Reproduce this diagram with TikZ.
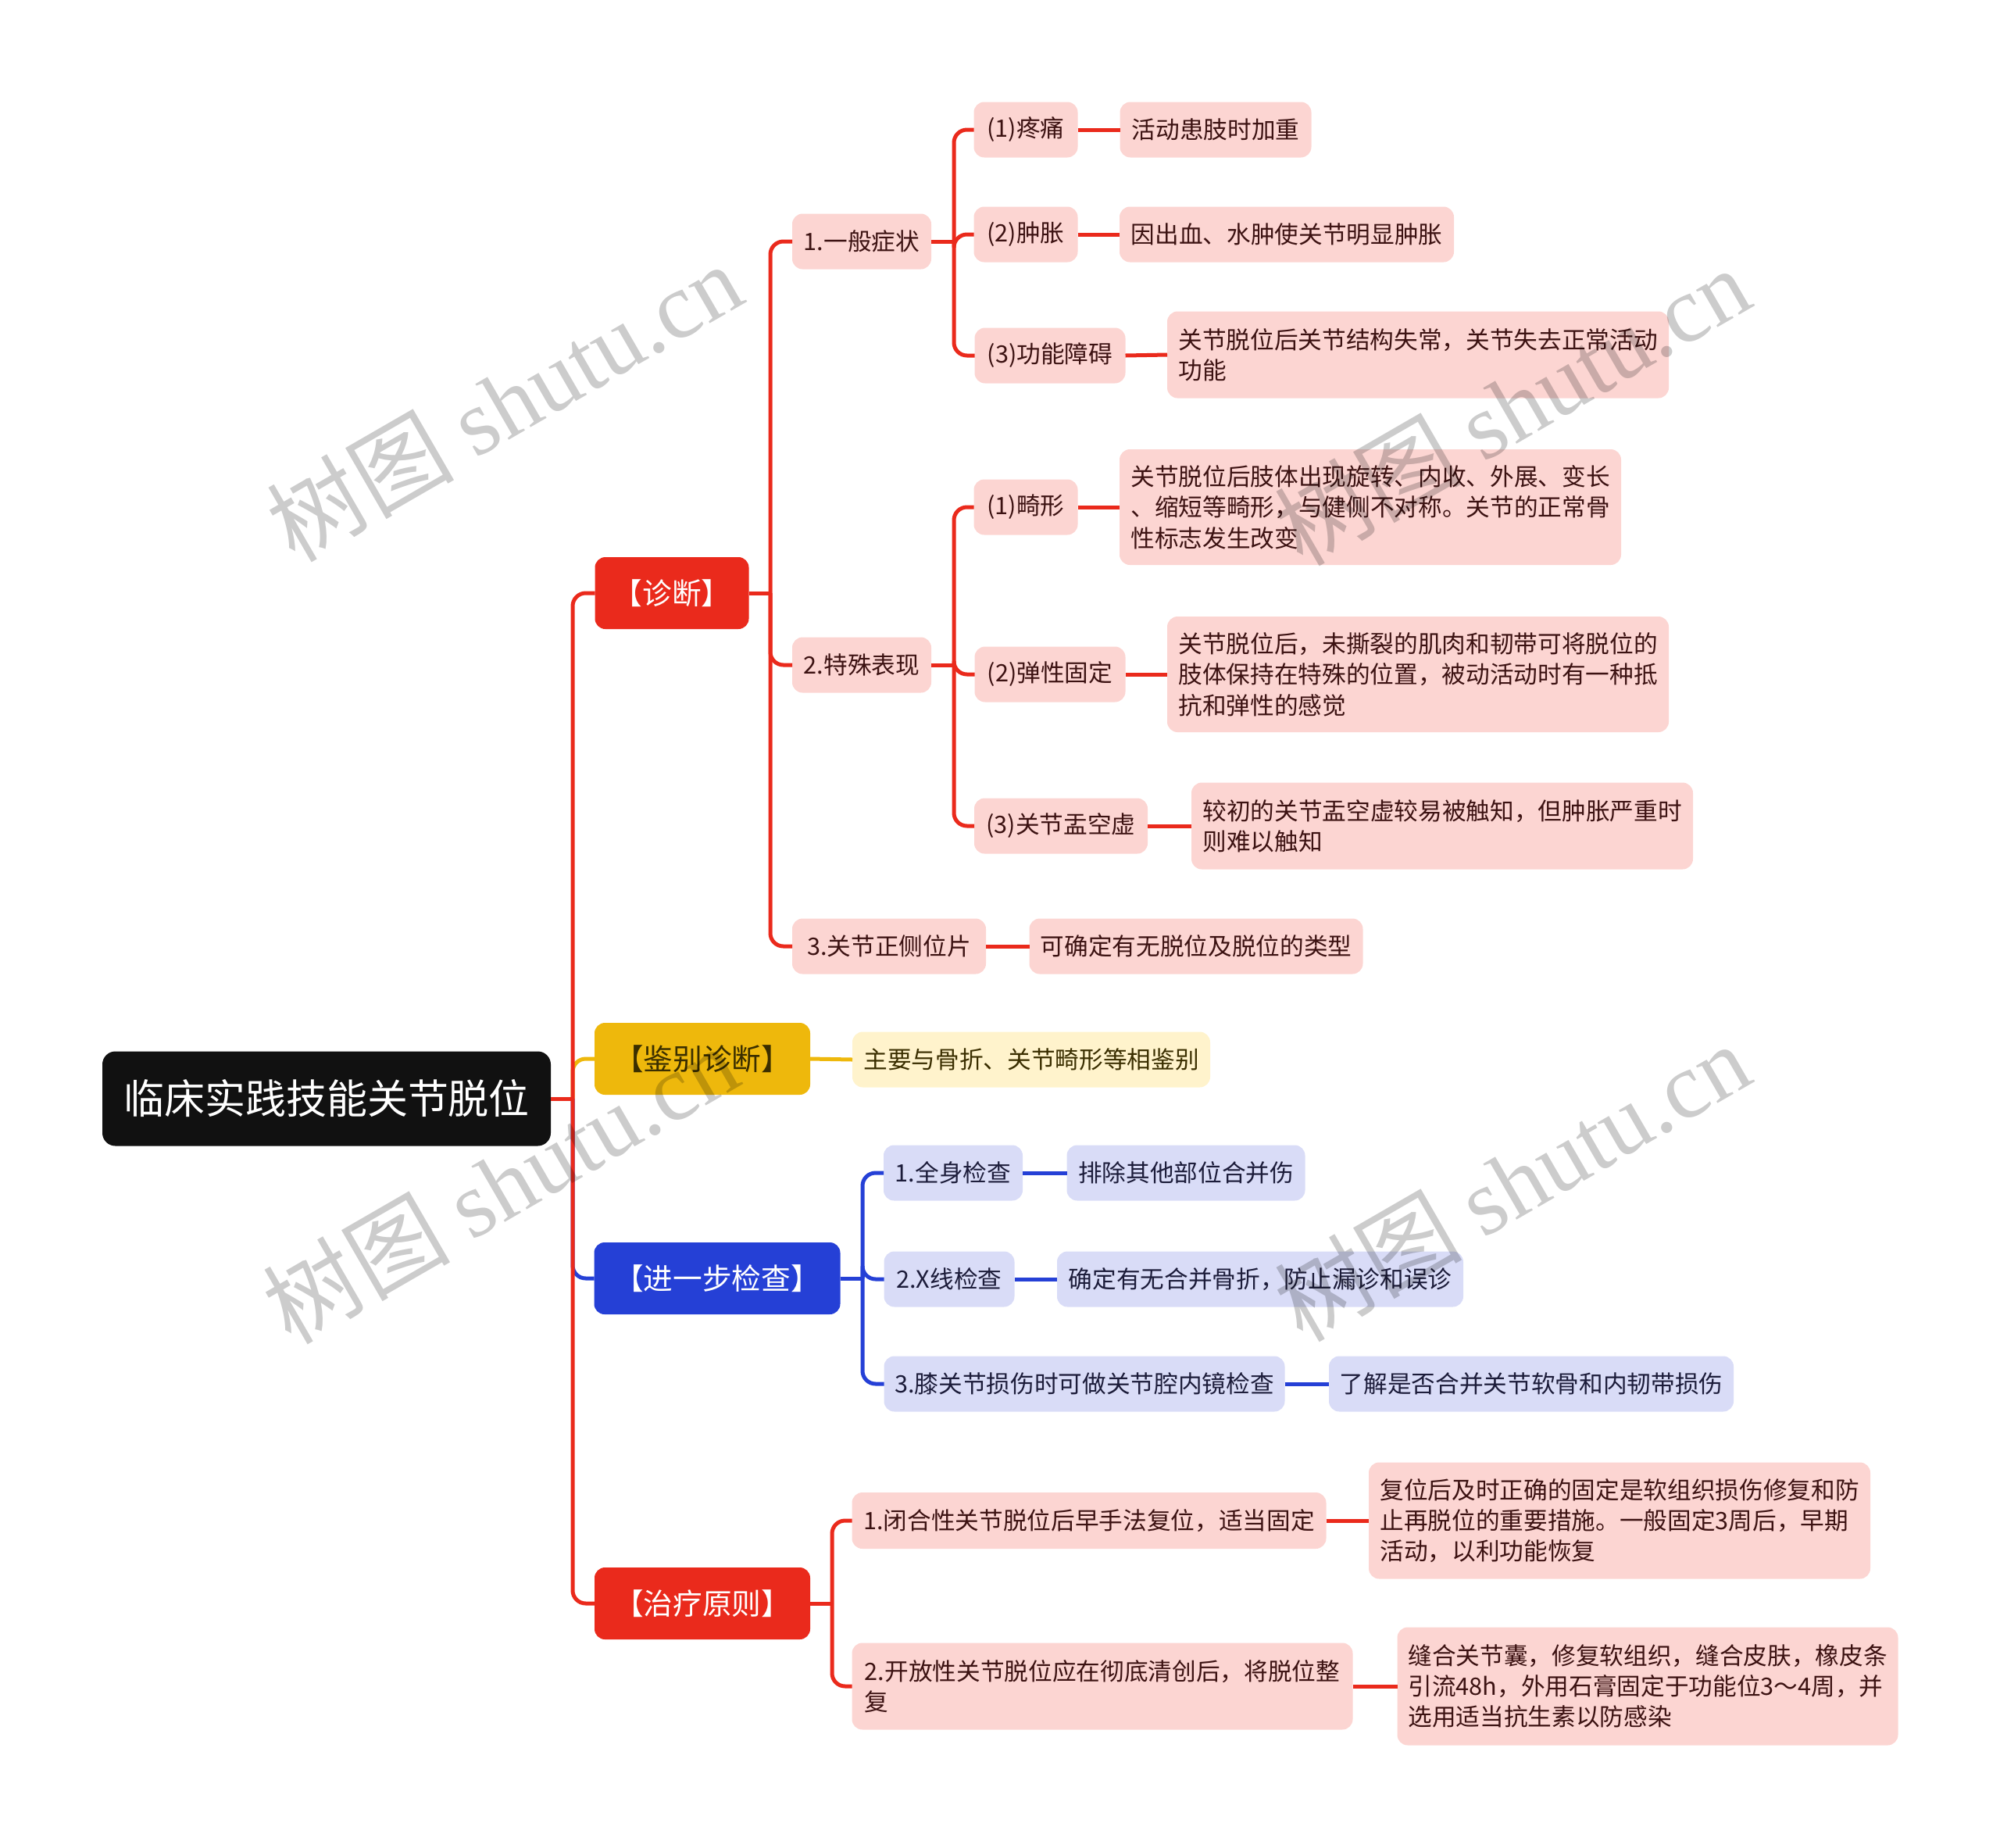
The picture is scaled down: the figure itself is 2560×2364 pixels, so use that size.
\documentclass[tikz,border=0pt]{standalone}
\usepackage{fontspec}
\setmainfont{Noto Sans CJK SC}
\newfontfamily\wmlat{Liberation Serif}
\newfontfamily\wmcjk{Noto Sans CJK SC}
\definecolor{rootc}{HTML}{111111}
\definecolor{redc}{HTML}{EA2A1C}
\definecolor{yelc}{HTML}{EEB80C}
\definecolor{bluc}{HTML}{2540D6}
\definecolor{pinkc}{HTML}{FCD5D2}
\definecolor{lavc}{HTML}{D9DCF7}
\definecolor{ltyc}{HTML}{FFF3CC}
\definecolor{pinkt}{HTML}{3C1212}
\definecolor{lavt}{HTML}{1C1C3A}
\definecolor{ltyt}{HTML}{3A2E00}
\tikzset{
  wh/.style 2 args={minimum width=#1*0.3pt, minimum height=#2*0.3pt},
  base/.style={inner sep=0pt, outer sep=0pt, align=left},
  rootbox/.style={base, fill=rootc, text=white, rounded corners=5pt, font=\fontsize{15.6}{18}\selectfont},
  lone/.style={base, rounded corners=4pt, font=\fontsize{11.3}{14}\selectfont},
  redbox/.style={lone, fill=redc, text=white},
  yelbox/.style={lone, fill=yelc, text=ltyt},
  blubox/.style={lone, fill=bluc, text=white},
  leaf/.style={base, rounded corners=4pt, font=\fontsize{9.2}{11.8}\selectfont},
  pk/.style={leaf, fill=pinkc, text=pinkt},
  lv/.style={leaf, fill=lavc, text=lavt},
  ly/.style={leaf, fill=ltyc, text=ltyt},
  conn/.style={line width=1.5pt, rounded corners=5pt},
  rl/.style={conn, draw=redc},
  yl/.style={conn, draw=yelc},
  bl/.style={conn, draw=bluc},
  wm/.style={rotate=30, text=black, text opacity=0.2, inner sep=0pt}
}
\begin{document}
\begin{tikzpicture}[x=0.3pt, y=-0.3pt]
\useasboundingbox (0,0) rectangle (2560,2364);
% root and level 1
\node[rootbox, wh={574}{121}] (root) at (418,1406) {临床实践技能关节脱位};
\node[redbox, wh={197}{92}] (zd) at (860,759) {【诊断】};
\node[yelbox, wh={276}{92}] (jb) at (899,1355) {【鉴别诊断】};
\node[blubox, wh={315}{92}] (jc) at (918,1636) {【进一步检查】};
\node[redbox, wh={276}{92}] (zl) at (899,2052) {【治疗原则】};
% diagnosis
\node[pk, wh={178}{71}] (a1) at (1103,309) {1.一般症状};
\node[pk, wh={178}{71}] (a2) at (1103,851) {2.特殊表现};
\node[pk, wh={248}{71}] (a3) at (1138,1211) {3.关节正侧位片};
\node[pk, wh={133}{71}] (b1) at (1313,166) {(1)疼痛};
\node[pk, wh={245}{71}] (b1t) at (1556,166) {活动患肢时加重};
\node[pk, wh={133}{71}] (b2) at (1313,300) {(2)肿胀};
\node[pk, wh={428}{71}] (b2t) at (1647,300) {因出血、水肿使关节明显肿胀};
\node[pk, wh={193}{71}] (b3) at (1344,455) {(3)功能障碍};
\node[pk, wh={642}{111}] (b3t) at (1815,454) {关节脱位后关节结构失常，关节失去正常活动\\功能};
\node[pk, wh={133}{71}] (c1) at (1313,649) {(1)畸形};
\node[pk, wh={642}{148}] (c1t) at (1754,649) {关节脱位后肢体出现旋转、内收、外展、变长\\、缩短等畸形，与健侧不对称。关节的正常骨\\性标志发生改变};
\node[pk, wh={193}{71}] (c2) at (1344,863) {(2)弹性固定};
\node[pk, wh={642}{148}] (c2t) at (1815,863) {关节脱位后，未撕裂的肌肉和韧带可将脱位的\\肢体保持在特殊的位置，被动活动时有一种抵\\抗和弹性的感觉};
\node[pk, wh={222}{71}] (c3) at (1358,1057) {(3)关节盂空虚};
\node[pk, wh={642}{111}] (c3t) at (1846,1057) {较初的关节盂空虚较易被触知，但肿胀严重时\\则难以触知};
\node[pk, wh={427}{71}] (a3t) at (1531,1211) {可确定有无脱位及脱位的类型};
% differential
\node[ly, wh={458}{71}] (jbt) at (1320,1356) {主要与骨折、关节畸形等相鉴别};
% further exam
\node[lv, wh={178}{71}] (d1) at (1220,1501) {1.全身检查};
\node[lv, wh={305}{71}] (d1t) at (1518,1501) {排除其他部位合并伤};
\node[lv, wh={167}{71}] (d2) at (1215,1637) {2.X线检查};
\node[lv, wh={520}{71}] (d2t) at (1613,1637) {确定有无合并骨折，防止漏诊和误诊};
\node[lv, wh={513}{71}] (d3) at (1388,1771) {3.膝关节损伤时可做关节腔内镜检查};
\node[lv, wh={518}{71}] (d3t) at (1960,1771) {了解是否合并关节软骨和内韧带损伤};
% treatment
\node[pk, wh={607}{72}] (e1) at (1394,1946) {1.闭合性关节脱位后早手法复位，适当固定};
\node[pk, wh={642}{149}] (e1t) at (2073,1946) {复位后及时正确的固定是软组织损伤修复和防\\止再脱位的重要措施。一般固定3周后，早期\\活动，以利功能恢复};
\node[pk, wh={641}{111}] (e2) at (1411,2158) {2.开放性关节脱位应在彻底清创后，将脱位整\\复};
\node[pk, wh={641}{151}] (e2t) at (2109,2158) {缝合关节囊，修复软组织，缝合皮肤，橡皮条\\引流48h，外用石膏固定于功能位3～4周，并\\选用适当抗生素以防感染};
% junctions
\coordinate (j0) at (733,1406);
\coordinate (j1) at (986,759);
\coordinate (j2) at (1221,309);
\coordinate (j3) at (1221,851);
\coordinate (j4) at (1104,1636);
\coordinate (j5) at (1065,2052);
% connectors level 1
\draw[yl] (j0) |- (jb.west);
\draw[bl] (j0) |- (jc.west);
\draw[rl] (root.east) -- (j0);
\draw[rl] (j0) |- (zd.west);
\draw[rl] (j0) |- (zl.west);
% diagnosis
\draw[rl] (zd.east) -- (j1);
\draw[rl] (j1) |- (a1.west);
\draw[rl] (j1) |- (a2.west);
\draw[rl] (j1) |- (a3.west);
\draw[rl] (a1.east) -- (j2);
\draw[rl] (j2) |- (b1.west);
\draw[rl] (j2) |- (b2.west);
\draw[rl] (j2) |- (b3.west);
\draw[rl] (b1.east) -- (b1t.west);
\draw[rl] (b2.east) -- (b2t.west);
\draw[rl] (b3.east) -- (b3t.west);
\draw[rl] (a2.east) -- (j3);
\draw[rl] (j3) |- (c1.west);
\draw[rl] (j3) |- (c2.west);
\draw[rl] (j3) |- (c3.west);
\draw[rl] (c1.east) -- (c1t.west);
\draw[rl] (c2.east) -- (c2t.west);
\draw[rl] (c3.east) -- (c3t.west);
\draw[rl] (a3.east) -- (a3t.west);
% differential
\draw[yl] (jb.east) -- (jbt.west);
% further exam
\draw[bl] (jc.east) -- (j4);
\draw[bl] (j4) |- (d1.west);
\draw[bl] (j4) |- (d2.west);
\draw[bl] (j4) |- (d3.west);
\draw[bl] (d1.east) -- (d1t.west);
\draw[bl] (d2.east) -- (d2t.west);
\draw[bl] (d3.east) -- (d3t.west);
% treatment
\draw[rl] (zl.east) -- (j5);
\draw[rl] (j5) |- (e1.west);
\draw[rl] (j5) |- (e2.west);
\draw[rl] (e1.east) -- (e1t.west);
\draw[rl] (e2.east) -- (e2t.west);
% watermarks
\foreach \wx/\wy [count=\i] in {645/514, 1935/519, 640/1515, 1935/1512}{
  \node[wm] (wm\i) at (\wx,\wy) {\fontsize{36}{40}\selectfont\wmcjk 树图 \wmlat shutu.cn};
}
\end{tikzpicture}
\end{document}
